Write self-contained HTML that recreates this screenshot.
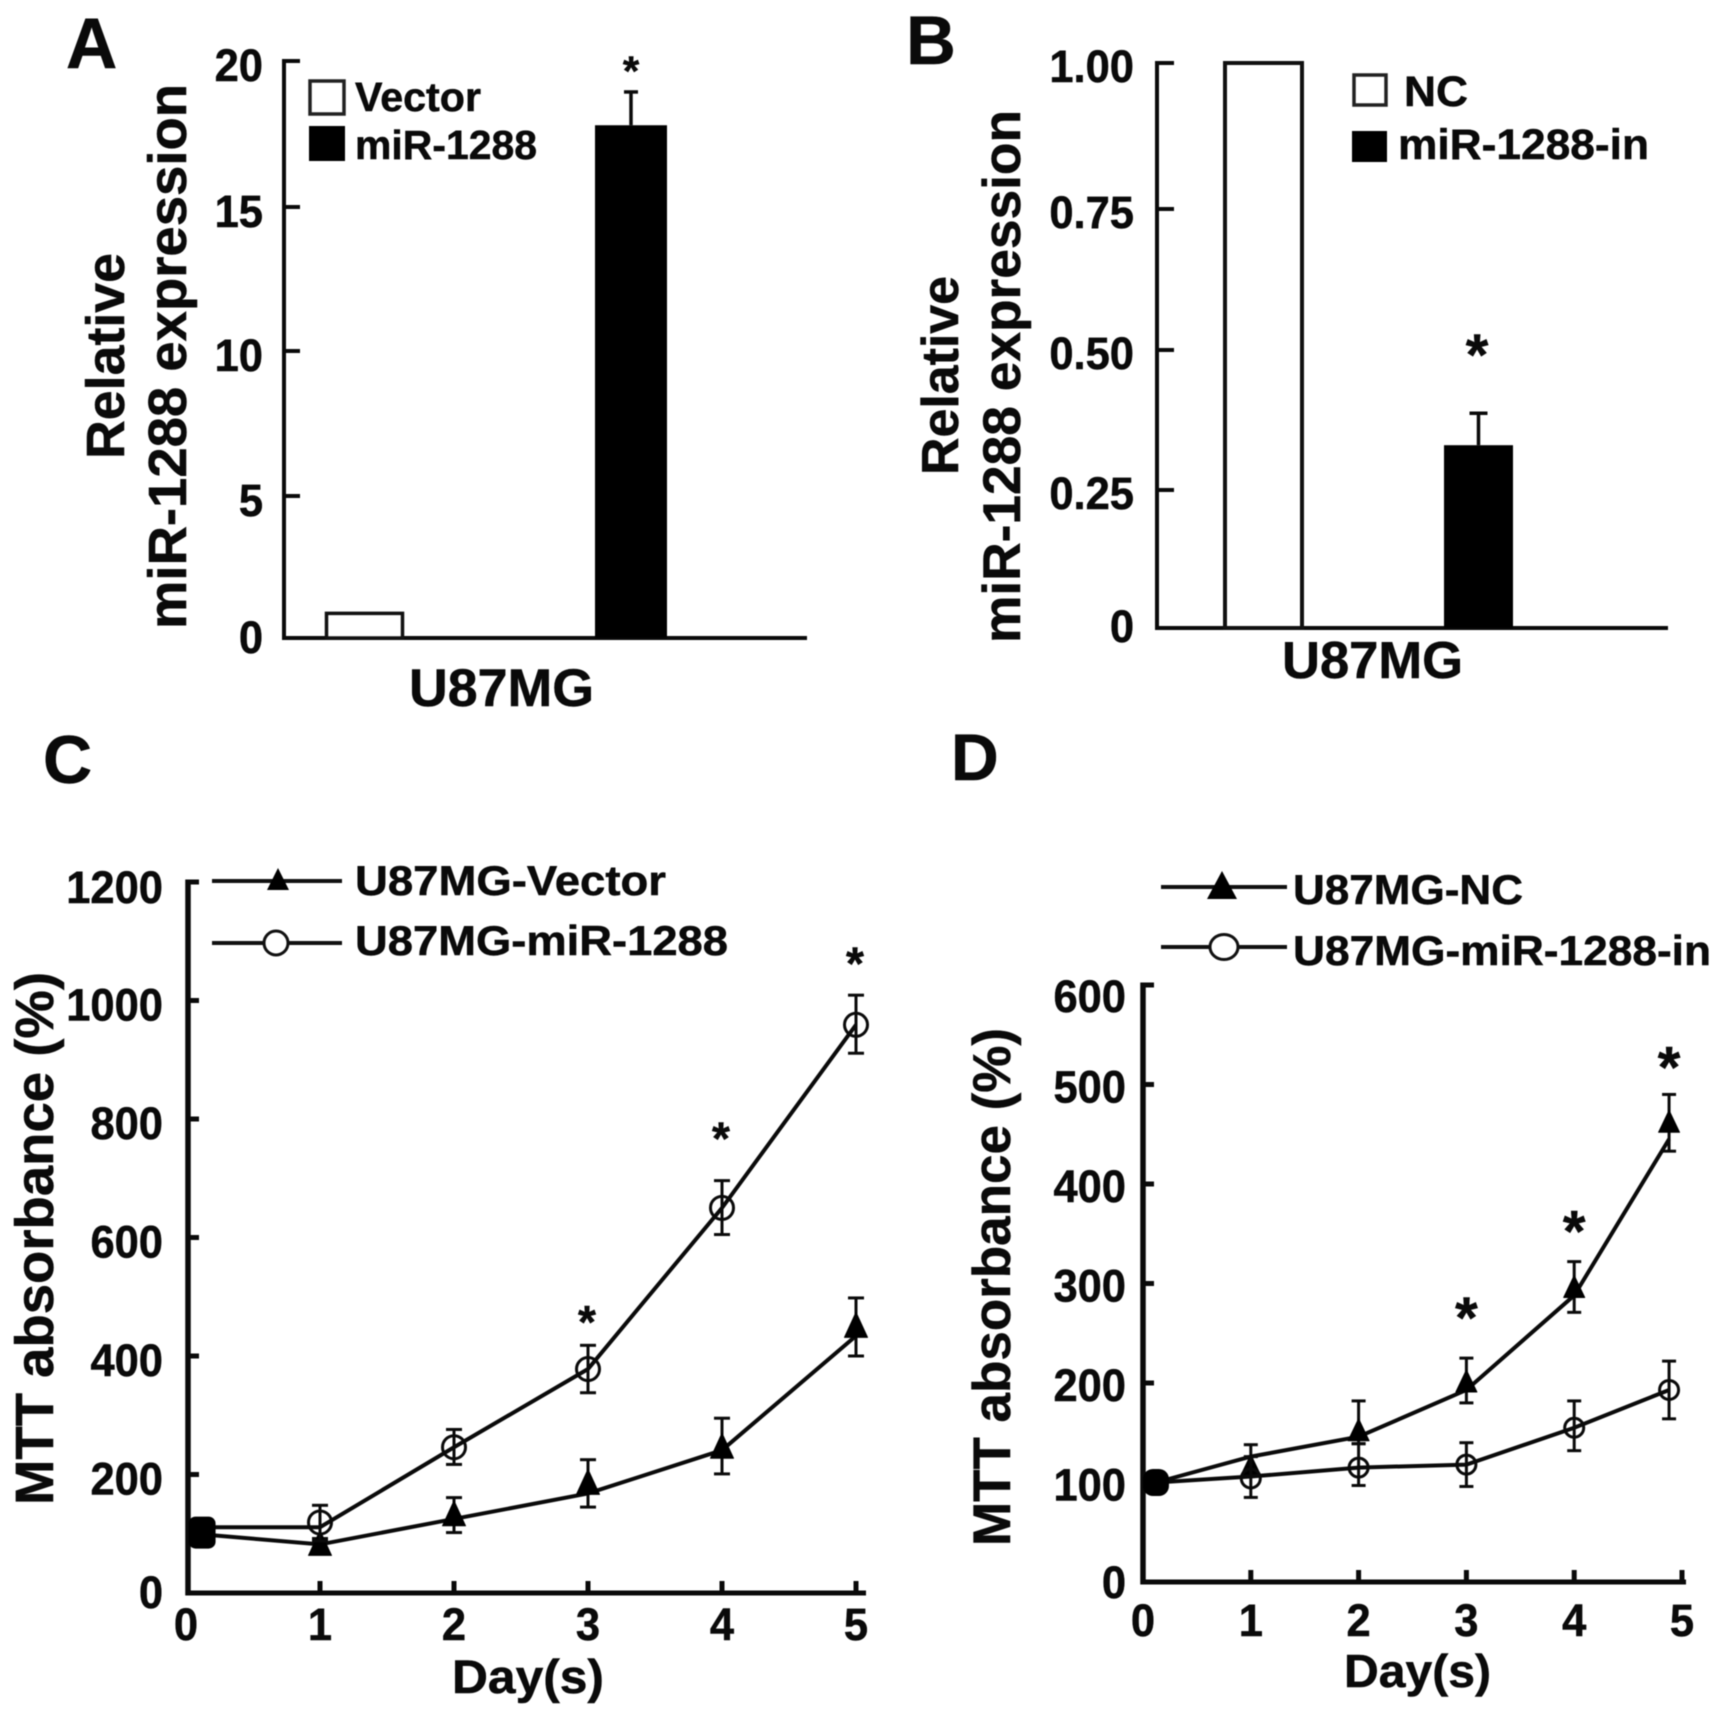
<!DOCTYPE html>
<html lang="en">
<head>
<meta charset="utf-8">
<title>miR-1288 expression and MTT absorbance in U87MG cells</title>
<style>
html,body{margin:0;padding:0;background:#fff;width:1722px;height:1715px;overflow:hidden}
svg{display:block;position:absolute;left:0;top:0;filter:blur(0.6px)}
text{font-family:"Liberation Sans",Arial,sans-serif;font-weight:700;fill:#0a0a0a;stroke:#0a0a0a;stroke-width:0.5}
</style>
</head>
<body>
<svg id="figure" xmlns="http://www.w3.org/2000/svg" width="1722" height="1715" viewBox="0 0 1722 1715">
  <rect x="0" y="0" width="1722" height="1715" fill="#fff"/>

  <text x="66" y="68" font-size="71">A</text>
  <text x="906" y="64" font-size="69">B</text>
  <text x="43" y="783" font-size="68">C</text>
  <text x="951" y="780" font-size="66">D</text>

  <text transform="translate(124,459) rotate(-90)" font-size="54" textLength="206" lengthAdjust="spacingAndGlyphs">Relative</text>
  <text transform="translate(186,629) rotate(-90)" font-size="54" textLength="545" lengthAdjust="spacingAndGlyphs">miR-1288 expression</text>
  <text x="409" y="706" font-size="53" textLength="185" lengthAdjust="spacingAndGlyphs">U87MG</text>

  <text transform="translate(958,475) rotate(-90)" font-size="52" textLength="199" lengthAdjust="spacingAndGlyphs">Relative</text>
  <text transform="translate(1020,643) rotate(-90)" font-size="53" textLength="533" lengthAdjust="spacingAndGlyphs">miR-1288 expression</text>
  <text x="1282" y="678" font-size="52" textLength="181" lengthAdjust="spacingAndGlyphs">U87MG</text>

  <text transform="translate(53,1505) rotate(-90)" font-size="54" textLength="533" lengthAdjust="spacingAndGlyphs">MTT absorbance (%)</text>
  <text x="452" y="1693" font-size="47" textLength="152" lengthAdjust="spacingAndGlyphs">Day(s)</text>

  <text transform="translate(1010,1546) rotate(-90)" font-size="53" textLength="518" lengthAdjust="spacingAndGlyphs">MTT absorbance (%)</text>
  <text x="1344" y="1687" font-size="46" textLength="147" lengthAdjust="spacingAndGlyphs">Day(s)</text>

  <g>
    <rect x="310" y="81" width="34" height="33" fill="#fff" stroke="#222" stroke-width="3.5"/>
    <text x="355" y="111" font-size="41" textLength="126" lengthAdjust="spacingAndGlyphs">Vector</text>
    <rect x="309" y="126" width="36" height="35" fill="#000"/>
    <text x="355" y="159" font-size="41" textLength="182" lengthAdjust="spacingAndGlyphs">miR-1288</text>
  </g>
  <g>
    <rect x="1354" y="75" width="32" height="30" fill="#fff" stroke="#222" stroke-width="3.5"/>
    <text x="1404" y="106" font-size="43" textLength="64" lengthAdjust="spacingAndGlyphs">NC</text>
    <rect x="1352" y="131" width="35" height="31" fill="#000"/>
    <text x="1398" y="159" font-size="43" textLength="251" lengthAdjust="spacingAndGlyphs">miR-1288-in</text>
  </g>
  <g>
    <line x1="212" y1="881" x2="342" y2="881" stroke="#111" stroke-width="4"/>
    <polygon points="278,868 289,890 267,890" fill="#000"/>
    <text x="355" y="895" font-size="42" textLength="311" lengthAdjust="spacingAndGlyphs">U87MG-Vector</text>
    <line x1="212" y1="943" x2="342" y2="943" stroke="#111" stroke-width="4"/>
    <circle cx="276" cy="943" r="12" fill="#fff" stroke="#111" stroke-width="3"/>
    <text x="355" y="955" font-size="42" textLength="373" lengthAdjust="spacingAndGlyphs">U87MG-miR-1288</text>
  </g>
  <g>
    <line x1="1161" y1="887" x2="1287" y2="887" stroke="#111" stroke-width="4"/>
    <polygon points="1222,871 1237,899 1207,899" fill="#000"/>
    <text x="1293" y="904" font-size="42" textLength="230" lengthAdjust="spacingAndGlyphs">U87MG-NC</text>
    <line x1="1161" y1="947" x2="1287" y2="947" stroke="#111" stroke-width="4"/>
    <ellipse cx="1224" cy="947" rx="14" ry="12.5" fill="#fff" stroke="#111" stroke-width="3"/>
    <text x="1293" y="965" font-size="42" textLength="418" lengthAdjust="spacingAndGlyphs">U87MG-miR-1288-in</text>
  </g>
</svg>
<script>
// ---- Panel A data ----
const panelATicks = [0, 5, 10, 15, 20];
const panelACategories = ['Vector', 'miR-1288'];
const panelAValues = [0.92, 17.8];
const panelAErrorTops = [0.92, 18.94];
const panelAStarValue = 19.85;

// ---- Panel B data ----
const panelBTicks = [0, 0.25, 0.5, 0.75, 1];
const panelBTickLabels = ['0', '0.25', '0.50', '0.75', '1.00'];
const panelBCategories = ['NC', 'miR-1288-in'];
const panelBValues = [1, 0.33];
const panelBErrorTops = [1, 0.387];
const panelBStarValue = 0.505;

// ---- Panel C data ----
const panelCYTicks = [0, 200, 400, 600, 800, 1000, 1200];
const panelCXTicks = [0, 1, 2, 3, 4, 5];
const panelCDays = [0.12, 1, 2, 3, 4, 5];
const vectorLineValues = [99, 82, 125, 168, 241, 434];
const vectorMarkerValues = [102, 82, 132, 185, 246, 450];
const vectorErrorTops = [112, 92, 161, 225, 295, 498];
const vectorErrorBottoms = [92, 72, 102, 145, 201, 400];
const mir1288LineValues = [111, 111, 246, 378, 650, 959];
const mir1288MarkerValues = [102, 119, 246, 378, 650, 959];
const mir1288ErrorTops = [112, 148, 276, 418, 696, 1009];
const mir1288ErrorBottoms = [92, 88, 217, 338, 605, 911];
const panelCStarDays = [3, 4, 5];
const panelCStarValues = [468, 777, 1073];

// ---- Panel D data ----
const panelDYTicks = [0, 100, 200, 300, 400, 500, 600];
const panelDXTicks = [0, 1, 2, 3, 4, 5];
const panelDDays = [0.12, 1, 2, 3, 4, 4.88];
const ncLineValues = [100, 126, 146, 193, 288, 445];
const ncMarkerValues = [100, 116, 152, 201, 296, 462];
const ncErrorTops = [110, 138, 182, 225, 322, 490];
const ncErrorBottoms = [90, 107, 139, 180, 271, 433];
const mirInLineValues = [100, 106, 115, 118, 155, 193];
const mirInMarkerValues = [100, 104, 115, 118, 155, 193];
const mirInErrorTops = [110, 126, 139, 140, 182, 222];
const mirInErrorBottoms = [90, 85, 97, 96, 132, 164];
const panelDStarDays = [3, 4, 4.88];
const panelDStarValues = [273, 360, 525];

const svg = document.getElementById('figure');
const NS = 'http://www.w3.org/2000/svg';

function addEl(tag, name, props) {
  const el = document.createElementNS(NS, tag);
  
  
  for (const k in props) {
    if (k !== 'text') el.setAttribute(k, props[k]);
  }
  if (props.text !== undefined) el.textContent = props.text;
  svg.appendChild(el);
  return el;
}
function addLine(name, x1, y1, x2, y2, w, color) {
  return addEl('line', name, {x1, y1, x2, y2, stroke: color || '#0a0a0a', 'stroke-width': w});
}
function addStar(name, cx, cy, size) {
  return addEl('text', name, {x: cx, y: cy + 0.48 * size, 'font-size': size, 'text-anchor': 'middle', text: '*'});
}
function addTickText(name, x, y, label, anchor) {
  return addEl('text', name, {x, y, 'font-size': 45, 'text-anchor': anchor, textLength: (label.replace('.', '').length * 0.556 + (label.includes('.') ? 0.278 : 0)) * 43.5, lengthAdjust: 'spacingAndGlyphs', text: label});
}
function addErrorBar(name, x, yTop, yBottom, cap, w) {
  addLine(name + '-stem', x, yTop, x, yBottom, w);
  addLine(name + '-cap-top', x - cap, yTop, x + cap, yTop, w);
  addLine(name + '-cap-bottom', x - cap, yBottom, x + cap, yBottom, w);
}
// the printed value axes of panels A and B are slightly uneven, so these scales run tick to tick
function tickScale(ticks, start, end, inner) {
  const anchors = [start].concat(inner, [end]);
  return v => {
    let i = 0;
    while (i < ticks.length - 2 && v > ticks[i + 1]) i++;
    return anchors[i] + (v - ticks[i]) / (ticks[i + 1] - ticks[i]) * (anchors[i + 1] - anchors[i]);
  };
}

/* ---------- Panel A ---------- */
const yA = tickScale(panelATicks, 638, 61, [496, 351, 207]);
addLine('y-axis-a', 284, yA(20) - 2, 284, yA(0) + 2, 4);
addLine('x-axis-a', 282, yA(0), 807, yA(0), 4);
panelATicks.forEach(t => {
  addLine('y-tick-a-' + t, 284, yA(t), 300, yA(t), 4);
  addTickText('y-tick-label-a-' + t, 263, yA(t) + (t === 0 ? 15 : 20), String(t), 'end');
});
const barAX = [[325, 404], [595, 667]];
panelACategories.forEach((c, i) => {
  const slug = c.toLowerCase();
  const top = yA(panelAValues[i]);
  const mid = (barAX[i][0] + barAX[i][1]) / 2;
  if (panelAErrorTops[i] > panelAValues[i]) {
    addLine('error-stem-a-' + slug, mid, yA(panelAErrorTops[i]), mid, top, 3.5);
    addLine('error-cap-a-' + slug, mid - 7, yA(panelAErrorTops[i]), mid + 7, yA(panelAErrorTops[i]), 3.5);
  }
  if (i === 0) {
    addEl('rect', 'bar-a-' + slug, {x: barAX[i][0] + 1.5, y: top + 1.5, width: barAX[i][1] - barAX[i][0] - 3, height: yA(0) - top - 1.5, fill: '#fff', stroke: '#111', 'stroke-width': 3.5});
  } else {
    addEl('rect', 'bar-a-' + slug, {x: barAX[i][0], y: top, width: barAX[i][1] - barAX[i][0], height: yA(0) - top, fill: '#000'});
  }
});
addStar('significance-star-a', 631, yA(panelAStarValue), 42);

/* ---------- Panel B ---------- */
const yB = tickScale(panelBTicks, 628, 63, [490, 350, 209]);
addLine('y-axis-b', 1157, yB(1) - 2, 1157, yB(0) + 2, 4);
addLine('x-axis-b', 1155, yB(0), 1668, yB(0), 4);
panelBTicks.forEach((t, i) => {
  addLine('y-tick-b-' + panelBTickLabels[i], 1157, yB(t), 1174, yB(t), 4);
  addTickText('y-tick-label-b-' + panelBTickLabels[i], 1134, yB(t) + (t === 0 ? 14 : 19), panelBTickLabels[i], 'end');
});
const barBX = [[1223, 1304], [1444, 1513]];
panelBCategories.forEach((c, i) => {
  const slug = c.toLowerCase();
  const top = yB(panelBValues[i]);
  const mid = (barBX[i][0] + barBX[i][1]) / 2;
  if (panelBErrorTops[i] > panelBValues[i]) {
    addLine('error-stem-b-' + slug, mid, yB(panelBErrorTops[i]), mid, top, 3.5);
    addLine('error-cap-b-' + slug, mid - 9, yB(panelBErrorTops[i]), mid + 9, yB(panelBErrorTops[i]), 3.5);
  }
  if (i === 0) {
    addEl('rect', 'bar-b-' + slug, {x: barBX[i][0] + 2, y: top, width: barBX[i][1] - barBX[i][0] - 4, height: yB(0) - top, fill: '#fff', stroke: '#111', 'stroke-width': 4});
  } else {
    addEl('rect', 'bar-b-' + slug, {x: barBX[i][0], y: top, width: barBX[i][1] - barBX[i][0], height: yB(0) - top, fill: '#000'});
  }
});
addStar('significance-star-b', 1477, yB(panelBStarValue), 58);

/* ---------- Line panels ---------- */
function drawLinePanel(p) {
  const {id, xS, yS} = p;
  addLine('y-axis-' + id, p.x0, yS(p.yTicks[p.yTicks.length - 1]) - 2.5, p.x0, yS(0) + 2.5, 5.5);
  addLine('x-axis-' + id, p.x0 - 2.5, yS(0), p.xEnd, yS(0), 5);
  p.yTicks.forEach((t, i) => {
    addLine('y-tick-' + id + '-' + t, p.x0, yS(t), p.x0 + 11, yS(t), 5);
    const isTop = i === p.yTicks.length - 1;
    const drop = t === 0 ? p.zeroDrop : p.labelDrop + (isTop ? p.topNudge : 0);
    addTickText('y-tick-label-' + id + '-' + t, p.labelRight, yS(t) + drop, String(t), 'end');
  });
  p.xTicks.forEach(t => {
    if (t > 0) addLine('x-tick-' + id + '-' + t, xS(t), yS(0), xS(t), yS(0) - 12, 5);
    addTickText('x-tick-label-' + id + '-' + t, xS(t), p.xLabelY, String(t), 'middle');
  });
  p.series.forEach(s => {
    const pts = p.days.map((d, i) => xS(d) + ',' + yS(s.line[i])).join(' ');
    addEl('polyline', 'series-line-' + s.name, {points: pts, fill: 'none', stroke: '#0a0a0a', 'stroke-width': 4});
    p.days.forEach((d, i) => {
      if (i === 0) return;
      const cx = xS(d);
      const cy = yS(s.marker[i]);
      addErrorBar('error-bar-' + s.name + '-day-' + d, cx, yS(s.top[i]), yS(s.bottom[i]), p.cap, 3);
      if (s.kind === 'triangle') {
        const pt = cx + ',' + (cy - p.triUp) + ' ' + (cx + p.triHalf) + ',' + (cy + p.triDown) + ' ' + (cx - p.triHalf) + ',' + (cy + p.triDown);
        addEl('polygon', 'marker-' + s.name + '-day-' + d, {points: pt, fill: '#000', stroke: '#000', 'stroke-width': 1, 'stroke-linejoin': 'round'});
      } else {
        addEl('circle', 'marker-' + s.name + '-day-' + d, {cx, cy, r: p.circleR, fill: 'none', stroke: '#0a0a0a', 'stroke-width': 3});
      }
    });
  });
  const bx = xS(p.days[0]);
  const by = yS(p.series[0].marker[0]);
  addEl('rect', 'day-0-marker-cluster-' + id, {x: bx - p.blobW / 2, y: by - p.blobH / 2, width: p.blobW, height: p.blobH, rx: p.blobR, fill: '#000'});
  p.starDays.forEach((d, i) => {
    addStar('significance-star-' + id + '-' + (i + 1), xS(d) - p.starDx, yS(p.starValues[i]), p.starSize);
  });
}

const xC = d => 186 + d * 134;
const yC = v => 1593 - v * 0.5925;
drawLinePanel({
  id: 'c', xS: xC, yS: yC, x0: 188, xEnd: 866, labelRight: 163, labelDrop: 20, zeroDrop: 15, topNudge: 1, xLabelY: 1640,
  yTicks: panelCYTicks, xTicks: panelCXTicks, days: panelCDays,
  cap: 8, circleR: 11.5, triHalf: 11.5, triUp: 14, triDown: 11,
  blobW: 27, blobH: 32, blobR: 7, starDays: panelCStarDays, starValues: panelCStarValues, starDx: 1, starSize: 46,
  series: [
    {name: 'u87mg-vector', kind: 'triangle', line: vectorLineValues, marker: vectorMarkerValues, top: vectorErrorTops, bottom: vectorErrorBottoms},
    {name: 'u87mg-mir-1288', kind: 'circle', line: mir1288LineValues, marker: mir1288MarkerValues, top: mir1288ErrorTops, bottom: mir1288ErrorBottoms}
  ]
});

const xD = d => 1143 + d * 107.8;
const yD = v => 1582 - v * 0.995;
drawLinePanel({
  id: 'd', xS: xD, yS: yD, x0: 1143, xEnd: 1686, labelRight: 1126, labelDrop: 18, zeroDrop: 16, topNudge: 9, xLabelY: 1636,
  yTicks: panelDYTicks, xTicks: panelDXTicks, days: panelDDays,
  cap: 7, circleR: 9.5, triHalf: 10.5, triUp: 12, triDown: 10,
  blobW: 26, blobH: 27, blobR: 10, starDays: panelDStarDays, starValues: panelDStarValues, starDx: 0, starSize: 58,
  series: [
    {name: 'u87mg-nc', kind: 'triangle', line: ncLineValues, marker: ncMarkerValues, top: ncErrorTops, bottom: ncErrorBottoms},
    {name: 'u87mg-mir-1288-in', kind: 'circle', line: mirInLineValues, marker: mirInMarkerValues, top: mirInErrorTops, bottom: mirInErrorBottoms}
  ]
});
</script>
</body>
</html>
